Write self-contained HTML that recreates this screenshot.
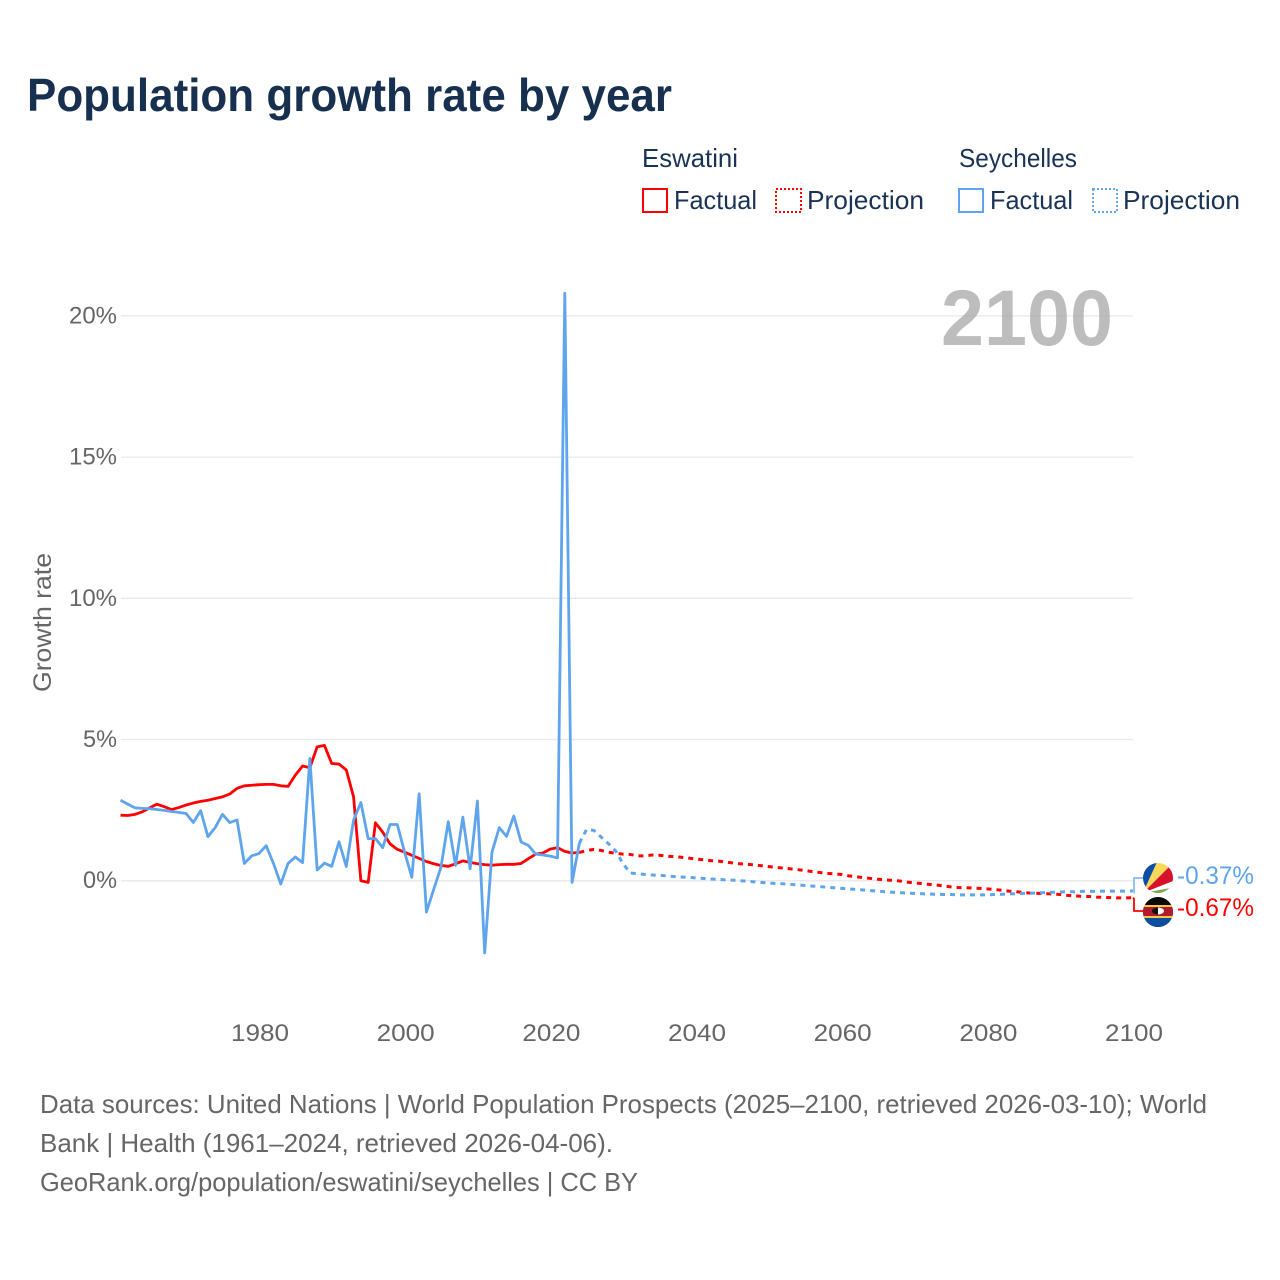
<!DOCTYPE html>
<html lang="en">
<head>
<meta charset="utf-8">
<title>Population growth rate by year</title>
<style>
html,body{margin:0;padding:0;background:#fff;}
svg{display:block;font-family:"Liberation Sans",sans-serif;}
.tick{font-size:24px;fill:#666;}
.legend{font-size:26px;fill:#1a3354;}
.foot{font-size:26px;fill:#666;}
</style>
</head>
<body>
<svg id="chart" width="1280" height="1280" viewBox="0 0 1280 1280" xmlns="http://www.w3.org/2000/svg">
  <defs>
    <clipPath id="clip-sc"><circle cx="1158" cy="878" r="15"/></clipPath>
    <clipPath id="clip-sz"><circle cx="1158" cy="912" r="15"/></clipPath>
  </defs>
  <rect width="1280" height="1280" fill="#fff"/>
  <text x="27" y="111" font-size="46" font-weight="700" fill="#17304f" textLength="645" lengthAdjust="spacingAndGlyphs">Population growth rate by year</text>

  <g>
    <text class="legend" x="642" y="167" textLength="96" lengthAdjust="spacingAndGlyphs">Eswatini</text>
    <rect x="643" y="189" width="24" height="23" fill="none" stroke="#ff0000" stroke-width="2"/>
    <text class="legend" x="674" y="209" textLength="83" lengthAdjust="spacingAndGlyphs">Factual</text>
    <rect x="776" y="189" width="25" height="23" fill="none" stroke="#ff0000" stroke-width="2" stroke-dasharray="2 2"/>
    <text class="legend" x="807" y="209" textLength="117" lengthAdjust="spacingAndGlyphs">Projection</text>
    <text class="legend" x="959" y="167" textLength="118" lengthAdjust="spacingAndGlyphs">Seychelles</text>
    <rect x="959" y="189" width="24" height="23" fill="none" stroke="#5ea5ee" stroke-width="2"/>
    <text class="legend" x="990" y="209" textLength="83" lengthAdjust="spacingAndGlyphs">Factual</text>
    <rect x="1093" y="189" width="24" height="23" fill="none" stroke="#5ea5ee" stroke-width="2" stroke-dasharray="2 2"/>
    <text class="legend" x="1123" y="209" textLength="117" lengthAdjust="spacingAndGlyphs">Projection</text>
  </g>

  <g id="grid"></g>
  <g id="yticks"></g>
  <g id="xticks"></g>
  <text transform="translate(51,692) rotate(-90)" font-size="25" fill="#666" textLength="139" lengthAdjust="spacingAndGlyphs">Growth rate</text>
  <text x="941" y="345" font-size="79" font-weight="700" fill="#999" fill-opacity="0.65" textLength="172" lengthAdjust="spacingAndGlyphs">2100</text>

  <g id="series"></g>

  <g clip-path="url(#clip-sc)">
    <rect x="1143" y="863" width="30" height="30" fill="#fff"/>
    <polygon points="1143,893 1143,860 1158,860" fill="#0b4ea2"/>
    <polygon points="1143,893 1158,860 1176,860" fill="#fcd856"/>
    <polygon points="1143,893 1176,860 1176,880" fill="#d8102e"/>
    <polygon points="1143,893 1176,880 1176,887" fill="#ffffff"/>
    <polygon points="1143,893 1176,887 1176,895 1143,895" fill="#7aa850"/>
  </g>
  <g clip-path="url(#clip-sz)">
    <rect x="1143" y="897" width="30" height="30" fill="#0a0a0a"/>
    <rect x="1143" y="905" width="30" height="2" fill="#f5c842"/>
    <rect x="1143" y="907" width="30" height="9" fill="#b01c2e"/>
    <rect x="1143" y="916" width="30" height="2" fill="#f5c842"/>
    <rect x="1143" y="918" width="30" height="9" fill="#0b4ea2"/>
    <ellipse cx="1158" cy="911" rx="6" ry="3.500" fill="#111"/>
    <path d="M1158 907.500 A6 3.500 0 0 1 1158 914.500 Z" fill="#fff"/>
  </g>
  <g id="end-labels"></g>

  <g>
    <text class="foot" x="40" y="1113" textLength="1167" lengthAdjust="spacingAndGlyphs">Data sources: United Nations | World Population Prospects (2025–2100, retrieved 2026-03-10); World</text>
    <text class="foot" x="40" y="1152" textLength="573" lengthAdjust="spacingAndGlyphs">Bank | Health (1961–2024, retrieved 2026-04-06).</text>
    <text class="foot" x="40" y="1191" textLength="598" lengthAdjust="spacingAndGlyphs">GeoRank.org/population/eswatini/seychelles | CC BY</text>
  </g>
</svg>
<script>
const startYear = 1961;
const lastFactualYear = 2024;
const xTickYears = [1980, 2000, 2020, 2040, 2060, 2080, 2100];
const yTickValues = [0, 5, 10, 15, 20];
const eswatiniEndLabel = "-0.67%";
const seychellesEndLabel = "-0.37%";
const eswatiniValues = [
  2.32,2.31,2.35,2.44,2.58,2.71,2.62,2.52,2.59,
  2.68,2.75,2.81,2.85,2.91,2.97,3.07,3.27,3.36,3.38,
  3.40,3.41,3.41,3.36,3.34,3.74,4.06,4.00,4.74,4.79,
  4.15,4.13,3.92,2.97,0.00,-0.06,2.05,1.72,1.31,1.11,
  1.01,0.90,0.79,0.68,0.60,0.54,0.51,0.60,0.70,0.65,
  0.60,0.57,0.55,0.57,0.58,0.58,0.61,0.78,0.94,0.98,
  1.12,1.17,1.04,0.98,1.00,1.07,1.11,1.07,1.01,0.97,
  0.94,0.93,0.88,0.88,0.91,0.90,0.87,0.85,0.83,0.80,
  0.77,0.74,0.71,0.70,0.66,0.63,0.60,0.58,0.56,0.53,
  0.50,0.47,0.45,0.42,0.39,0.36,0.32,0.29,0.26,0.24,
  0.22,0.17,0.14,0.11,0.08,0.05,0.03,0.01,-0.01,-0.05,
  -0.08,-0.10,-0.13,-0.15,-0.19,-0.22,-0.24,-0.25,-0.26,-0.27,
  -0.29,-0.31,-0.34,-0.37,-0.39,-0.42,-0.44,-0.45,-0.46,-0.47,
  -0.49,-0.52,-0.54,-0.55,-0.56,-0.58,-0.59,-0.60,-0.61,-0.61,
  -0.60
];
const seychellesValues = [
  2.85,2.71,2.58,2.56,2.55,2.52,2.49,2.45,2.42,
  2.38,2.06,2.48,1.56,1.88,2.35,2.06,2.15,0.61,0.88,
  0.96,1.24,0.61,-0.12,0.61,0.84,0.64,4.33,0.38,0.62,
  0.51,1.38,0.50,2.15,2.77,1.49,1.49,1.17,1.99,1.99,
  1.01,0.12,3.08,-1.11,-0.31,0.48,2.09,0.54,2.25,0.42,
  2.82,-2.56,1.01,1.88,1.57,2.29,1.37,1.25,0.94,0.91,
  0.87,0.81,20.80,-0.06,1.33,1.82,1.78,1.54,1.31,1.05,
  0.60,0.27,0.25,0.22,0.20,0.19,0.17,0.15,0.13,0.12,
  0.10,0.08,0.06,0.05,0.03,0.02,0.00,-0.02,-0.04,-0.06,
  -0.08,-0.10,-0.11,-0.13,-0.15,-0.17,-0.19,-0.21,-0.23,-0.25,
  -0.27,-0.29,-0.31,-0.33,-0.35,-0.37,-0.39,-0.41,-0.42,-0.44,
  -0.45,-0.46,-0.47,-0.48,-0.49,-0.49,-0.50,-0.50,-0.50,-0.50,
  -0.50,-0.49,-0.48,-0.47,-0.46,-0.45,-0.44,-0.43,-0.42,-0.41,
  -0.40,-0.39,-0.39,-0.38,-0.38,-0.38,-0.37,-0.37,-0.37,-0.37,
  -0.36
];

const NS = "http://www.w3.org/2000/svg";
const redColor = "#ff0000";
const blueColor = "#5ea5ee";
function xScale(year) { return 260 + (year - 1980) * (1134 - 260) / 120; }
function xData(year) { return xScale(year) - 1.1; }
function yScale(value) { return 880.7 - value * 28.24; }
function make(tag, attrs, parent, text) {
  const el = document.createElementNS(NS, tag);
  for (const k in attrs) el.setAttribute(k, attrs[k]);
  if (text !== undefined) el.textContent = text;
  parent.appendChild(el);
  return el;
}
function linePoints(values, fromYear, toYear) {
  const pts = [];
  values.forEach(function (v, i) {
    const yr = startYear + i;
    if (yr >= fromYear && yr <= toYear) pts.push(xData(yr).toFixed(2) + "," + yScale(v).toFixed(2));
  });
  return pts.join(" ");
}

const gridGroup = document.getElementById("grid");
const yGroup = document.getElementById("yticks");
yTickValues.forEach(function (v) {
  const line = make("line", { x1: 121, x2: 1133, y1: yScale(v), y2: yScale(v), stroke: "#e9e9e9", "stroke-width": 1.3 }, gridGroup);
  
  
  const width = String(v).length === 1 ? 34 : 48;
  const label = make("text", { class: "tick", x: 117 - width, y: yScale(v) + 7.5, textLength: width, lengthAdjust: "spacingAndGlyphs" }, yGroup, v + "%");
  
  
});
const xGroup = document.getElementById("xticks");
xTickYears.forEach(function (yr) {
  const label = make("text", { class: "tick", x: xScale(yr) - 29, y: 1041, textLength: 58, lengthAdjust: "spacingAndGlyphs" }, xGroup, String(yr));
  
  
});

function drawSeries(values, color, slug) {
  const group = document.getElementById("series");
  const endYear = startYear + values.length - 1;
  const proj = make("polyline", { points: linePoints(values, lastFactualYear, endYear), fill: "none", stroke: color, "stroke-width": 3, "stroke-dasharray": "5 5", "stroke-linejoin": "round" }, group);
  
  
  const fact = make("polyline", { points: linePoints(values, startYear, lastFactualYear), fill: "none", stroke: color, "stroke-width": 2.8, "stroke-linejoin": "round" }, group);
  
  
}
drawSeries(eswatiniValues, redColor, "eswatini");
drawSeries(seychellesValues, blueColor, "seychelles");

const endGroup = document.getElementById("end-labels");
function drawEnd(values, color, labelText, linkY, textY, opacity, slug) {
  const yEnd = yScale(values[values.length - 1]);
  const conn = make("polyline", { points: "1133," + yEnd + " 1134," + (yEnd + 1) + " 1134," + linkY + " 1143," + linkY, fill: "none", stroke: color, "stroke-width": 1.8, "stroke-opacity": opacity }, endGroup);
  
  
  const label = make("text", { x: 1177, y: textY, "font-size": 25, fill: color, textLength: 77, lengthAdjust: "spacingAndGlyphs" }, endGroup, labelText);
  
  
}
drawEnd(seychellesValues, blueColor, seychellesEndLabel, 878, 884, 0.75, "seychelles");
drawEnd(eswatiniValues, redColor, eswatiniEndLabel, 911, 916, 1, "eswatini");
</script>
</body>
</html>
